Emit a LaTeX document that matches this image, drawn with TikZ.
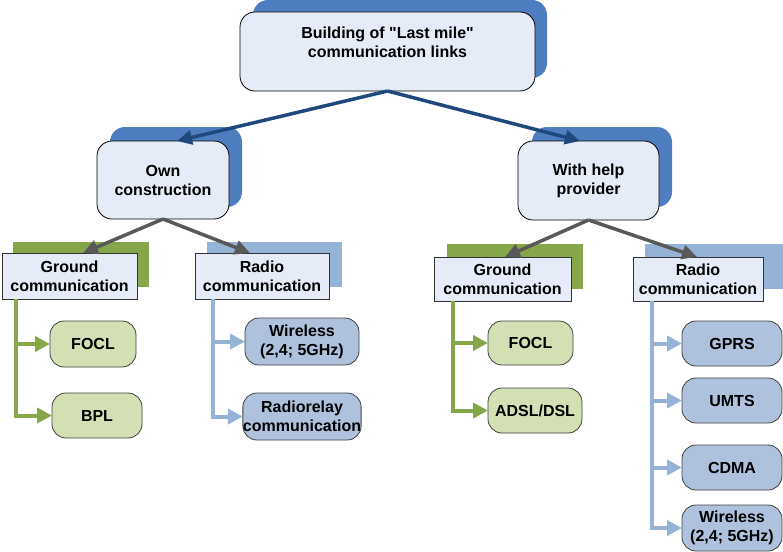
\documentclass[tikz,border=0pt]{standalone}
\usepackage{fontspec}
\setmainfont{Liberation Sans}[Ligatures=TeXOff]
\usetikzlibrary{arrows.meta}
\definecolor{boxfill}{RGB}{230,236,247}
\definecolor{shadowblue}{RGB}{79,126,192}
\definecolor{arrowblue}{RGB}{31,73,125}
\definecolor{arrowgray}{RGB}{89,89,89}
\definecolor{conngreen}{RGB}{134,166,74}
\definecolor{connblue}{RGB}{149,179,215}
\definecolor{leafgreen}{RGB}{210,224,180}
\definecolor{leafblue}{RGB}{175,194,221}
\begin{document}
\begin{tikzpicture}[x=1pt,y=-1pt,
  every node/.style={font=\bfseries\fontsize{16}{19}\selectfont, align=center, inner sep=0pt, outer sep=0pt, text=black},
  topbox/.style={draw=black, line width=0.8pt, fill=boxfill, rounded corners=15pt},
  midbox/.style={draw=black!80, line width=0.8pt, fill=boxfill},
  greenleaf/.style={draw=black!75, line width=0.8pt, fill=leafgreen, rounded corners=14pt},
  blueleaf/.style={draw=black!75, line width=0.8pt, fill=leafblue, rounded corners=14pt},
  toparrow/.style={draw=arrowblue, line width=3.5pt, -{Triangle[length=15pt,width=14pt]}},
  grayarrow/.style={draw=arrowgray, line width=3.5pt, -{Triangle[length=15pt,width=14pt]}},
  gconn/.style={draw=conngreen, line width=4pt},
  bconn/.style={draw=connblue, line width=4pt},
  gtip/.style={gconn, -{Triangle[length=15pt,width=15pt]}},
  btip/.style={bconn, -{Triangle[length=15pt,width=15pt]}}
]
\useasboundingbox (0,0) rectangle (783,551);

% shadows
\fill[shadowblue, rounded corners=15pt] (253,0) rectangle (547,78);
\fill[shadowblue, rounded corners=15pt] (110,127) rectangle (242,207);
\fill[shadowblue, rounded corners=15pt] (532,127) rectangle (672,207);
\fill[conngreen] (13,242) rectangle (149,287);
\fill[connblue] (207,242) rectangle (342,287);
\fill[conngreen] (447,244) rectangle (583,289);
\fill[connblue] (645,244) rectangle (783,289);

% main boxes
\node[topbox, minimum width=295pt, minimum height=79pt] (top) at (387.5,51.5)
  {Building of "Last mile"\\communication links\\\mbox{}};
\node[topbox, minimum width=132pt, minimum height=78pt] (own) at (163,180) {Own\\construction};
\node[topbox, minimum width=141pt, minimum height=79pt] (help) at (588.5,180.5) {With help\\provider};

\node[midbox, minimum width=135pt, minimum height=46pt] (gl) at (69.5,276) {Ground\\communication};
\node[midbox, minimum width=134pt, minimum height=46pt] (rl) at (262,276) {Radio\\communication};
\node[midbox, minimum width=137pt, minimum height=44pt] (gr) at (502.5,279) {Ground\\communication};
\node[midbox, minimum width=130pt, minimum height=44pt] (rr) at (698,279) {Radio\\communication};

% leaves
\node[greenleaf, minimum width=86pt, minimum height=46pt] (focll) at (93,344) {FOCL};
\node[greenleaf, minimum width=90pt, minimum height=45pt] (bpl) at (97,415.5) {BPL};
\node[blueleaf, minimum width=114pt, minimum height=47pt] (wll) at (302,341.5) {Wireless\\(2,4; 5GHz)};
\node[blueleaf, minimum width=114pt, minimum height=47pt] (rrel) at (302,416.5) {Radiorelay\\communication};
\node[greenleaf, minimum width=85pt, minimum height=44pt] (foclr) at (530.5,343) {FOCL};
\node[greenleaf, minimum width=94pt, minimum height=45pt] (adsl) at (535,410.5) {ADSL/DSL};
\node[blueleaf, minimum width=100pt, minimum height=45pt] (gprs) at (732,343.5) {GPRS};
\node[blueleaf, minimum width=100pt, minimum height=45pt] (umts) at (732,400.5) {UMTS};
\node[blueleaf, minimum width=100pt, minimum height=45pt] (cdma) at (732,467.5) {CDMA};
\node[blueleaf, minimum width=100pt, minimum height=46pt] (wlr) at (732,528) {Wireless\\(2,4; 5GHz)};

% arrow targets
\coordinate (ownTip) at (177,141);
\coordinate (helpTip) at (580,141);
\coordinate (glTip) at (83,253);
\coordinate (rlTip) at (250,253);
\coordinate (grTip) at (505,257);
\coordinate (rrTip) at (697,257);

\draw[toparrow] (top.south) -- (ownTip);
\draw[toparrow] (top.south) -- (helpTip);
\draw[grayarrow] (own.south) -- (glTip);
\draw[grayarrow] (own.south) -- (rlTip);
\draw[grayarrow] (help.south) -- (grTip);
\draw[grayarrow] (help.south) -- (rrTip);

% trunks
\coordinate (tgl) at (16,299);
\coordinate (trl) at (213,299);
\coordinate (tgr) at (453,301);
\coordinate (trr) at (652,301);

\draw[gtip] (tgl) |- (bpl.west);
\draw[gtip] (tgl |- focll.west) -- (focll.west);
\draw[btip] (trl) |- (rrel.west);
\draw[btip] (trl |- wll.west) -- (wll.west);
\draw[gtip] (tgr) |- (adsl.west);
\draw[gtip] (tgr |- foclr.west) -- (foclr.west);
\draw[btip] (trr) |- (wlr.west);
\draw[btip] (trr |- gprs.west) -- (gprs.west);
\draw[btip] (trr |- umts.west) -- (umts.west);
\draw[btip] (trr |- cdma.west) -- (cdma.west);
\end{tikzpicture}
\end{document}
